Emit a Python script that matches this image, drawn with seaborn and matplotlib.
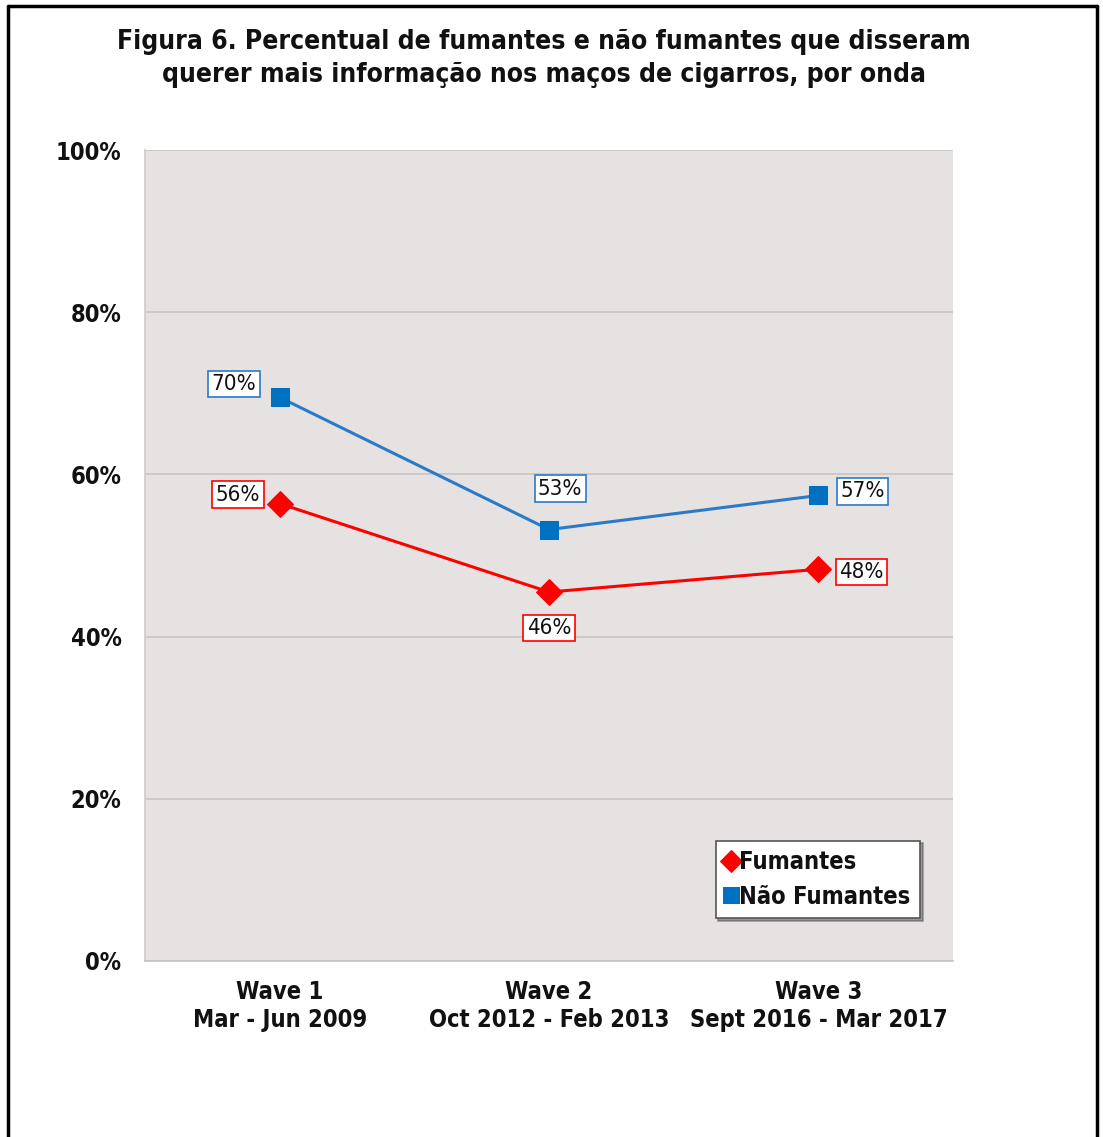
import matplotlib
matplotlib.use("Agg")
import matplotlib.pyplot as plt
import seaborn as sns
import pandas as pd
from matplotlib.ticker import PercentFormatter

waves = ["Wave 1\nMar - Jun 2009", "Wave 2\nOct 2012 - Feb 2013", "Wave 3\nSept 2016 - Mar 2017"]
fumantes = [56.4, 45.5, 48.3]
nao_fumantes = [69.5, 53.2, 57.4]
fumantes_labels = ["56%", "46%", "48%"]
nao_fumantes_labels = ["70%", "53%", "57%"]

sns.set_theme(style="white")
plt.rcParams['font.family'] = ['DejaVu Sans']
plt.rcParams['font.stretch'] = 'condensed'

df = pd.DataFrame({
    "wave": waves * 2,
    "value": fumantes + nao_fumantes,
    "serie": ["Fumantes"] * 3 + ["Não Fumantes"] * 3,
})

fig = plt.figure(figsize=(11.03, 11.37), dpi=100)
ax = fig.add_axes([145/1103, 1-961/1137, 808/1103, 811/1137])
ax.set_facecolor("#E6E2E2")

red = "#FF0000"
blue = "#0070C0"
blue_line = "#2A7AC8"

sns.lineplot(data=df, x="wave", y="value", hue="serie", style="serie",
             palette={"Fumantes": red, "Não Fumantes": blue_line},
             markers={"Fumantes": "D", "Não Fumantes": "s"}, dashes=False,
             markersize=13, linewidth=2.2, ax=ax, sort=False)
for line in ax.lines:
    if line.get_color() == red:
        line.set_markerfacecolor(red); line.set_markeredgecolor(red)
    else:
        line.set_markerfacecolor(blue); line.set_markeredgecolor(blue)

ax.set_xlim(-0.5, 2.5)
ax.set_ylim(0, 100)
ax.set_yticks([0, 20, 40, 60, 80, 100])
ax.yaxis.set_major_formatter(PercentFormatter(decimals=0))
ax.grid(axis="y", color="#C8C4C4", linewidth=1.2)
ax.set_axisbelow(True)
for s in ["top", "right"]:
    ax.spines[s].set_visible(False)
ax.spines["left"].set_color("#D0CCCC")
ax.spines["bottom"].set_color("#C8C4C4")
ax.set_xlabel("")
ax.set_ylabel("")
ax.tick_params(axis="x", length=0, labelsize=17, pad=14)
ax.tick_params(axis="y", length=0, labelsize=17, pad=17)
for t in ax.get_xticklabels() + ax.get_yticklabels():
    t.set_fontweight("bold")
    t.set_color("#111111")

# data labels (offsets in points)
nf_off = [(-33, 9.5), (8, 29.5), (32, 3)]
f_off = [(-30, 6.5), (0, -26), (31, -2)]
for i in range(3):
    ax.annotate(nao_fumantes_labels[i], (i, nao_fumantes[i]), xytext=nf_off[i], textcoords="offset points",
                ha="center", va="center", fontsize=16, color="#111111",
                bbox=dict(boxstyle="square,pad=0.15", fc="white", ec=blue_line, lw=1.2))
    ax.annotate(fumantes_labels[i], (i, fumantes[i]), xytext=f_off[i], textcoords="offset points",
                ha="center", va="center", fontsize=16, color="#111111",
                bbox=dict(boxstyle="square,pad=0.15", fc="white", ec=red, lw=1.2))

leg = ax.legend(loc="lower right", bbox_to_anchor=(0.959, 0.053), borderaxespad=0,
                prop={"size": 17, "weight": "bold", "stretch": "condensed"},
                frameon=True, fancybox=False, shadow=True,
                handlelength=0.5, handletextpad=0.1, borderpad=0.4, labelspacing=0.45,
                markerscale=0.85)
leg.get_frame().set_edgecolor("#555555")
leg.get_frame().set_linewidth(1.2)
for t in leg.get_texts():
    t.set_color("#111111")
for h in leg.legend_handles:
    h.set_linestyle("None")

fig.text(544/1103, 1-42/1137, "Figura 6. Percentual de fumantes e não fumantes que disseram",
         ha="center", va="center", fontsize=19, fontweight="bold", color="#111111")
fig.text(544/1103, 1-75/1137, "querer mais informação nos maços de cigarros, por onda",
         ha="center", va="center", fontsize=19, fontweight="bold", color="#111111")

# outer border
fig.add_artist(plt.Line2D([8/1103, 8/1103], [0, 1-6/1137], color="black", lw=2.5, transform=fig.transFigure))
fig.add_artist(plt.Line2D([8/1103, 1097/1103], [1-6/1137, 1-6/1137], color="black", lw=2.5, transform=fig.transFigure))
fig.add_artist(plt.Line2D([1097/1103, 1097/1103], [0, 1-6/1137], color="black", lw=2.5, transform=fig.transFigure))

fig.savefig("out.png", dpi=100)
